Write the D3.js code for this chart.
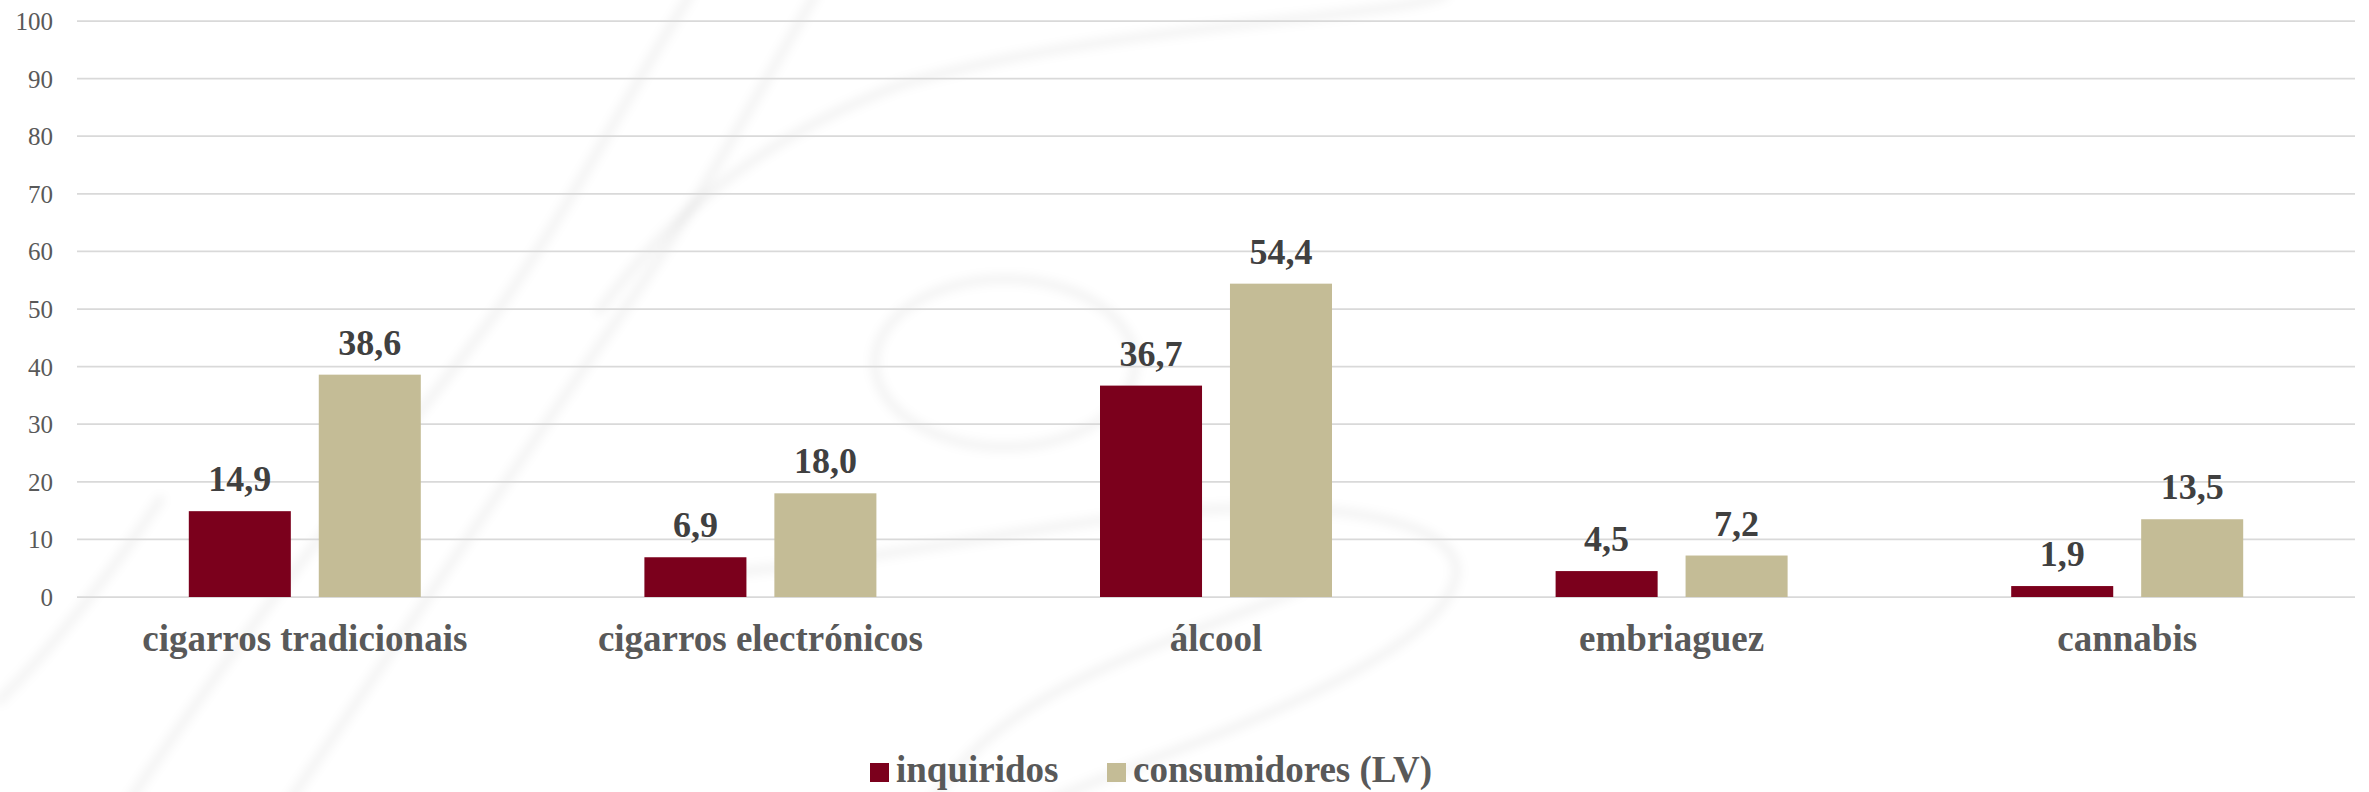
<!DOCTYPE html>
<html>
<head>
<meta charset="utf-8">
<script src="https://cdn.jsdelivr.net/npm/d3@7"></script>
<style>
  body { margin: 0; background: #fff; }
  svg { display: block; }
</style>
</head>
<body>
<div id="chart"></div>
<script>
var width = 2369;
var height = 792;
var serif = "'Liberation Serif', 'Times New Roman', Times, 'DejaVu Serif', serif";

// categories and series
var categories = ["cigarros tradicionais", "cigarros electrónicos", "álcool", "embriaguez", "cannabis"];
var seriesNames = ["inquiridos", "consumidores (LV)"];
var inquiridos = [14.9, 6.9, 36.7, 4.5, 1.9];
var consumidores = [38.6, 18.0, 54.4, 7.2, 13.5];
var yTicks = [0, 10, 20, 30, 40, 50, 60, 70, 80, 90, 100];
var colors = ["#7B001C", "#C4BC96"];

var plotLeft = 77, plotRight = 2355, plotTop = 21, plotBottom = 597;

var svg = d3.select("#chart").append("svg").attr("width", width).attr("height", height)
  .style("font-family", serif);
svg.append("rect").attr("width", width).attr("height", height).attr("fill", "#fff");

// faint decorative watermark swooshes
var defs = svg.append("defs");
defs.append("filter").attr("id", "soft").attr("x", "-10%").attr("y", "-10%").attr("width", "120%").attr("height", "120%")
  .append("feGaussianBlur").attr("stdDeviation", 5);
var wm = svg.append("g").attr("filter", "url(#soft)").attr("fill", "none")
  .attr("stroke", "#000").attr("stroke-opacity", 0.045).attr("stroke-width", 10).attr("stroke-linecap", "round");
var swooshes = [
  "M 130 800 C 290 560, 420 420, 505 300 C 580 190, 630 90, 690 -5",
  "M 290 800 C 420 610, 540 430, 631 300 C 700 200, 760 90, 815 -5",
  "M 600 310 C 680 200, 780 130, 900 85 C 1050 40, 1250 25, 1330 15 C 1390 8, 1425 3, 1445 -5",
  "M 700 575 C 900 560, 1050 520, 1200 510 C 1350 500, 1470 525, 1455 580 C 1440 640, 1300 705, 1150 760 C 1100 780, 1060 795, 1040 805",
  "M 930 805 C 1000 690, 1150 650, 1300 590",
  "M 0 700 C 60 640, 120 560, 160 500"
];
wm.selectAll("path.sw").data(swooshes).enter().append("path").attr("class", "sw").attr("d", function(d) { return d; });
wm.append("ellipse").attr("cx", 1005).attr("cy", 363).attr("rx", 130).attr("ry", 84);

var y = d3.scaleLinear().domain([0, 100]).range([plotBottom, plotTop]);
var x0 = d3.scaleBand().domain(categories).range([plotLeft, plotRight]).padding(0);
var groupWidth = 232;
var x1 = d3.scaleBand().domain(seriesNames).range([0, groupWidth]).paddingInner(0.215).paddingOuter(0);

// gridlines
svg.append("g").selectAll("line").data(yTicks).enter().append("line")
  .attr("x1", plotLeft).attr("x2", plotRight)
  .attr("y1", function(d) { return y(d); }).attr("y2", function(d) { return y(d); })
  .attr("stroke", "#d9d9d9").attr("stroke-width", 1.75);

// y tick labels
svg.append("g").selectAll("text").data(yTicks).enter().append("text")
  .attr("x", 53).attr("y", function(d) { return y(d) + 9; })
  .attr("text-anchor", "end").attr("font-size", 25).attr("fill", "#595959")
  .attr("font-family", serif)
  .text(function(d) { return d; });

var rows = categories.map(function(c, i) {
  return { cat: c, values: [inquiridos[i], consumidores[i]] };
});

var groups = svg.append("g").selectAll("g").data(rows).enter().append("g")
  .attr("transform", function(d) { return "translate(" + (x0(d.cat) + (x0.bandwidth() - groupWidth) / 2) + ",0)"; });

groups.selectAll("rect").data(function(d) { return d.values.map(function(v, j) { return { s: seriesNames[j], v: v, j: j }; }); })
  .enter().append("rect")
  .attr("x", function(d) { return x1(d.s); })
  .attr("width", x1.bandwidth())
  .attr("y", function(d) { return y(d.v); })
  .attr("height", function(d) { return y(0) - y(d.v); })
  .attr("fill", function(d) { return colors[d.j]; });

groups.selectAll("text.val").data(function(d) { return d.values.map(function(v, j) { return { s: seriesNames[j], v: v }; }); })
  .enter().append("text").attr("class", "val")
  .attr("x", function(d) { return x1(d.s) + x1.bandwidth() / 2; })
  .attr("y", function(d) { return y(d.v) - 20; })
  .attr("text-anchor", "middle").attr("font-size", 36).attr("font-weight", "bold").attr("fill", "#404040")
  .attr("font-family", serif)
  .text(function(d) { return d.v.toFixed(1).replace(".", ","); });

// category labels
svg.append("g").selectAll("text").data(categories).enter().append("text")
  .attr("x", function(d) { return x0(d) + x0.bandwidth() / 2; })
  .attr("y", 651)
  .attr("text-anchor", "middle").attr("font-size", 37).attr("font-weight", "bold").attr("fill", "#595959")
  .attr("font-family", serif)
  .text(function(d) { return d; });

// legend
var legendX = [870, 1107];
var legend = svg.append("g").selectAll("g").data(seriesNames).enter().append("g")
  .attr("transform", function(d, i) { return "translate(" + legendX[i] + ",0)"; });
legend.append("rect").attr("x", 0).attr("y", 763).attr("width", 19).attr("height", 19)
  .attr("fill", function(d, i) { return colors[i]; });
legend.append("text").attr("x", 26).attr("y", 782)
  .attr("font-size", 37).attr("font-weight", "bold").attr("fill", "#595959")
  .attr("font-family", serif)
  .text(function(d) { return d; });
</script>
</body>
</html>
